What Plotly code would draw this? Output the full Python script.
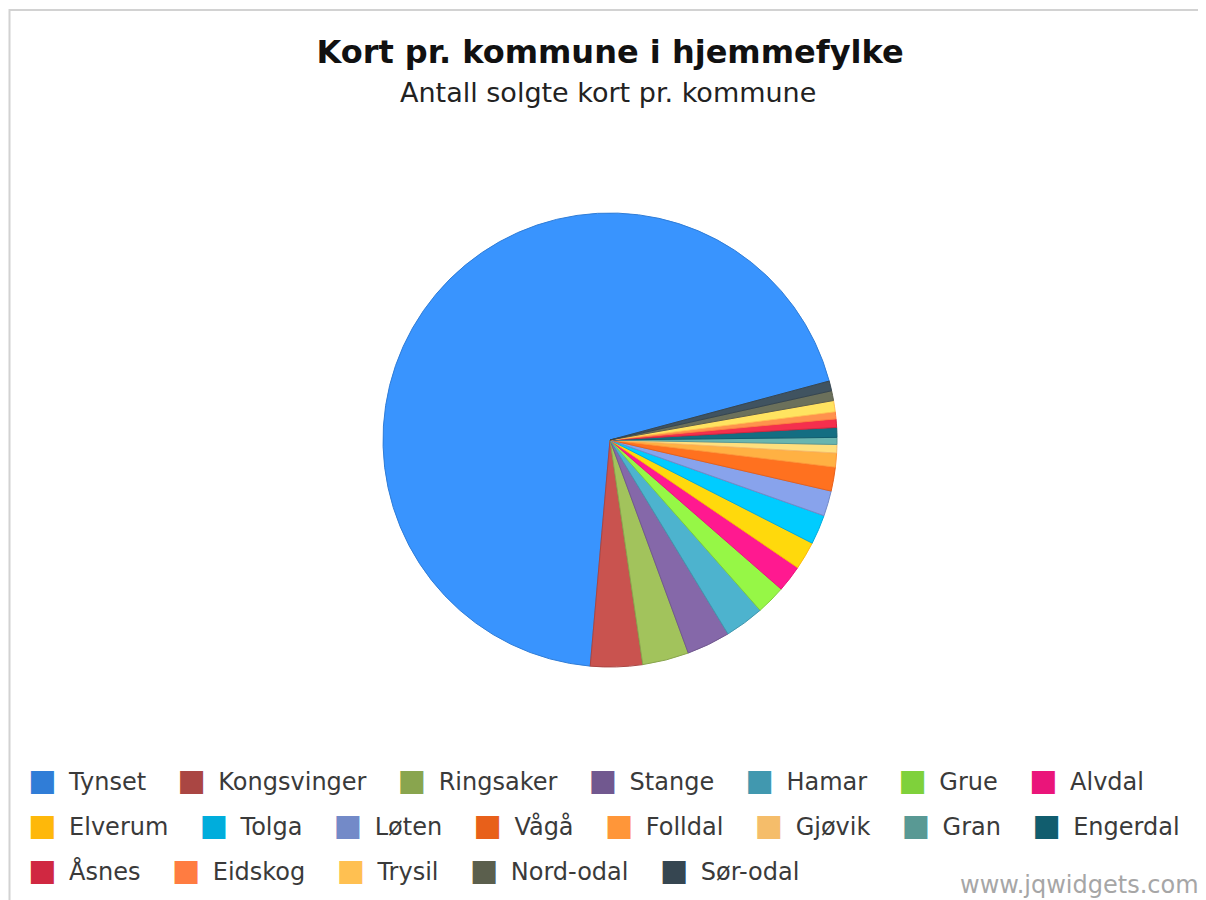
import plotly.graph_objects as go

# ---------------- data ----------------
labels = ["Tynset", "Kongsvinger", "Ringsaker", "Stange", "Hamar", "Grue", "Alvdal",
          "Elverum", "Tolga", "Løten", "Vågå", "Folldal", "Gjøvik", "Gran", "Engerdal",
          "Åsnes", "Eidskog", "Trysil", "Nord-odal", "Sør-odal"]
values = [695, 37, 33, 31, 28, 21, 19,
          20, 21, 18, 17, 10, 6, 5, 7,
          6, 5, 8, 7, 7]
colors = ["#307DD7", "#AA4643", "#89A54E", "#71588F", "#4198AF", "#7FD13B", "#EA157A",
          "#FEB80A", "#00ADDC", "#738AC8", "#E8601A", "#FF9639", "#F5BD6A", "#599994", "#115D6E",
          "#D02841", "#FF7C41", "#FFC051", "#5B5F4D", "#364651"]
title_text = "Kort pr. kommune i hjemmefylke"
subtitle_text = "Antall solgte kort pr. kommune"
watermark_text = "www.jqwidgets.com"
legend_row_counts = [7, 8, 5]

# ---------------- style helpers ----------------
OFF = 8                      # page body margin of the written html
W, H = 1206 - OFF, 900 - OFF
FONT = "DejaVu Sans"


def brighten(hx, f):
    hx = hx.lstrip("#")
    r, g, b = (int(hx[i:i + 2], 16) for i in (0, 2, 4))
    r, g, b = (min(255, int(round(v * f))) for v in (r, g, b))
    return "#{:02X}{:02X}{:02X}".format(r, g, b)


def px_x(x):
    return (x - OFF) / W


def px_y(y):
    return 1 - (y - OFF) / H


cx, cy, rad = 610, 440, 227

fig = go.Figure(
    go.Pie(
        labels=labels,
        values=values,
        sort=False,
        direction="counterclockwise",
        rotation=185,
        textinfo="none",
        hoverinfo="label+value+percent",
        marker=dict(colors=[brighten(c, 1.18) for c in colors],
                    line=dict(color=colors, width=1)),
        domain=dict(x=[px_x(cx - rad), px_x(cx + rad)],
                    y=[px_y(cy + rad), px_y(cy - rad)]),
        showlegend=False,
    )
)

annotations = []
annotations.append(dict(text=subtitle_text, x=px_x(608), y=px_y(92), xref="paper", yref="paper",
                        xanchor="center", yanchor="middle", showarrow=False,
                        font=dict(family=FONT, size=27, color="#222222")))

# legend rows (flowing text with coloured squares)
row_y = [779, 824, 869]
sep = '<span style="font-size:24.5px">' + "\u00a0" * 4 + "</span>"
idx = 0
for r, n in enumerate(legend_row_counts):
    parts = []
    for k in range(idx, idx + n):
        parts.append('<span style="color:%s;font-size:30px">■\u00a0</span>'
                     '<span style="font-size:10px">\u00a0</span>%s' % (colors[k], labels[k]))
    idx += n
    annotations.append(dict(text=sep.join(parts), x=px_x(26), y=px_y(row_y[r]),
                            xref="paper", yref="paper", xanchor="left", yanchor="middle",
                            showarrow=False, align="left",
                            font=dict(family=FONT, size=24, color="#3a3a3a")))

annotations.append(dict(text=watermark_text, x=px_x(1201), y=px_y(885), xref="paper", yref="paper",
                        xanchor="right", yanchor="middle", showarrow=False,
                        font=dict(family=FONT, size=24, color="#a6a6a6")))

fig.update_layout(
    width=W, height=H,
    margin=dict(l=0, r=0, t=0, b=0),
    paper_bgcolor="white",
    plot_bgcolor="white",
    title=dict(text=title_text, x=px_x(610), y=px_y(52), xref="paper", yref="container",
               xanchor="center", yanchor="middle",
               font=dict(family=FONT, size=32, color="#111111", weight="bold")),
    annotations=annotations,
    shapes=[dict(type="rect", xref="paper", yref="paper",
                 x0=px_x(9.5), x1=px_x(1203.5), y0=-0.05, y1=px_y(10),
                 line=dict(color="#d2d2d2", width=2), fillcolor="rgba(0,0,0,0)", layer="below")],
    showlegend=False,
)

fig.write_html("out.html")
